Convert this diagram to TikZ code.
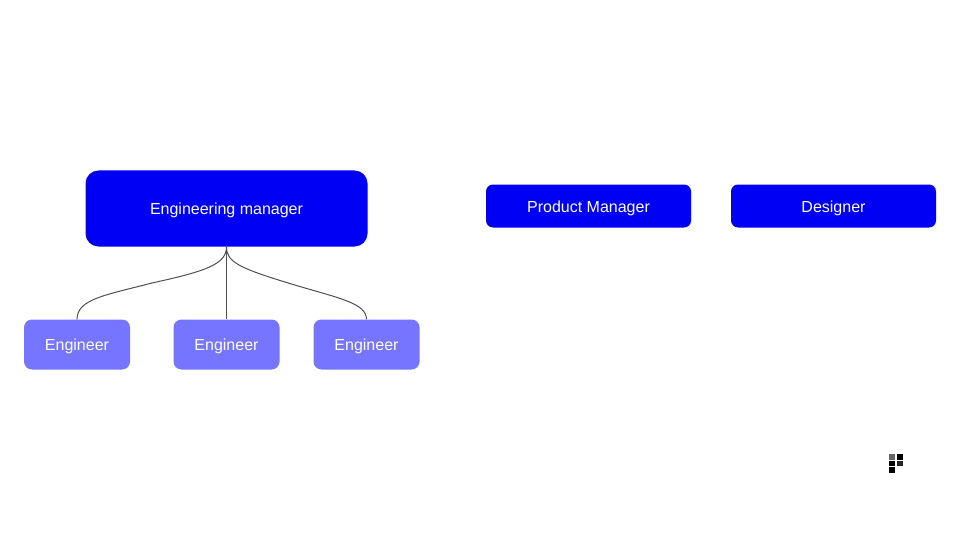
\documentclass[tikz,border=0pt]{standalone}
\usepackage{fontspec}
\setmainfont{Liberation Sans}
\definecolor{darkblue}{RGB}{0,0,245}
\definecolor{lightblue}{RGB}{117,117,255}
\definecolor{linkgray}{RGB}{80,80,80}
\tikzset{
  role/.style={fill=darkblue,text=white,rounded corners=7pt,text height=12.6pt,text depth=0pt,font=\fontsize{16}{18}\selectfont},
  engineer/.style={fill=lightblue,text=white,rounded corners=8pt,minimum width=106pt,minimum height=50pt,text height=12.4pt,text depth=0pt,font=\fontsize{16}{18}\selectfont},
  link/.style={draw=linkgray,line width=1pt},
  logobit/.style={fill=black}
}
\begin{document}
\begin{tikzpicture}[x=1pt,y=-1pt]
  \useasboundingbox(0,0)rectangle(960,540);
  \node[role,rounded corners=13pt,minimum width=282pt,minimum height=76pt](manager)at(226.5,208.5){Engineering manager};
  \node[role,minimum width=205pt,minimum height=43pt](product)at(588.5,206){Product Manager};
  \node[role,minimum width=205pt,minimum height=43pt](designer)at(833.5,206){Designer};
  \node[engineer](engA)at(77,344.5){Engineer};
  \node[engineer](engB)at(226.5,344.5){Engineer};
  \node[engineer](engC)at(366.5,344.5){Engineer};
  \coordinate(bendA)at(152,283);
  \coordinate(bendC)at(296.5,285.5);
  \draw[link](manager.south)..controls(226.5,264)and(207,271)..(bendA)..controls(106,295)and(77,299)..(engA.north);
  \draw[link](manager.south)--(engB.north);
  \draw[link](manager.south)..controls(226.5,262)and(238,268)..(bendC)..controls(338,298)and(366.5,303)..(engC.north);
  % logo
  \fill[logobit,fill=black!60](889,454)rectangle(895,460);
  \fill[logobit](897,454)rectangle(903,460);
  \fill[logobit](889,460.7)rectangle(895,466);
  \fill[logobit,fill=black!85](897,460.7)rectangle(903,466);
  \fill[logobit](889,467)rectangle(895,473);
\end{tikzpicture}
\end{document}
